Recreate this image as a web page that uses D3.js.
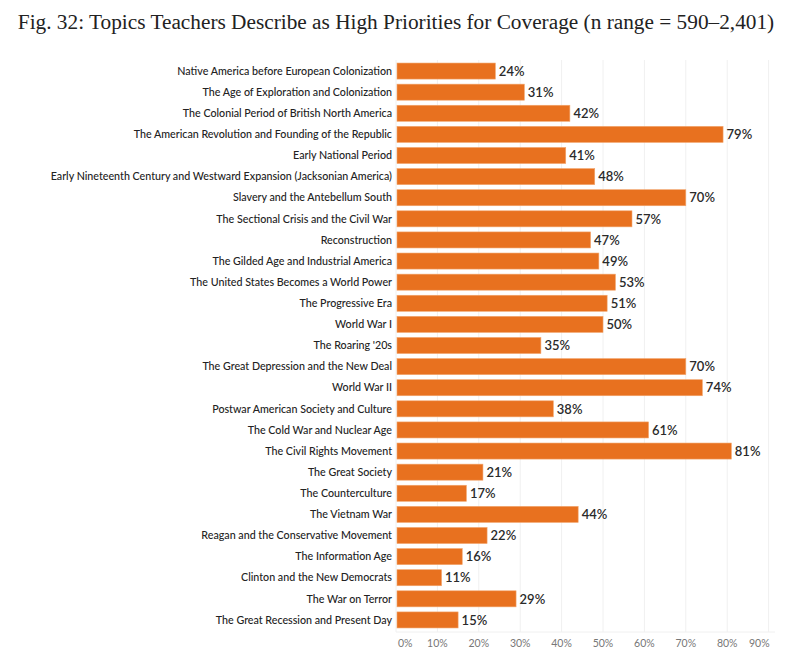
<!DOCTYPE html>
<html>
<head>
<meta charset="utf-8">
<script src="https://cdn.jsdelivr.net/npm/d3@7"></script>
<style>
  body { margin: 0; background: #fff; }
  svg { display: block; }
</style>
</head>
<body>
<svg id="chart" width="800" height="667"></svg>
<script>
const title = "Fig. 32: Topics Teachers Describe as High Priorities for Coverage (n range = 590\u20132,401)";
const categories = [
  "Native America before European Colonization",
  "The Age of Exploration and Colonization",
  "The Colonial Period of British North America",
  "The American Revolution and Founding of the Republic",
  "Early National Period",
  "Early Nineteenth Century and Westward Expansion (Jacksonian America)",
  "Slavery and the Antebellum South",
  "The Sectional Crisis and the Civil War",
  "Reconstruction",
  "The Gilded Age and Industrial America",
  "The United States Becomes a World Power",
  "The Progressive Era",
  "World War I",
  "The Roaring '20s",
  "The Great Depression and the New Deal",
  "World War II",
  "Postwar American Society and Culture",
  "The Cold War and Nuclear Age",
  "The Civil Rights Movement",
  "The Great Society",
  "The Counterculture",
  "The Vietnam War",
  "Reagan and the Conservative Movement",
  "The Information Age",
  "Clinton and the New Democrats",
  "The War on Terror",
  "The Great Recession and Present Day"
];
const values = [24, 31, 42, 79, 41, 48, 70, 57, 47, 49, 53, 51, 50, 35, 70, 74, 38, 61, 81, 21, 17, 44, 22, 16, 11, 29, 15];
const xTicks = [0, 10, 20, 30, 40, 50, 60, 70, 80, 90];

const data = categories.map((c, i) => ({ cat: c, val: values[i] }));
const svg = d3.select("#chart");

const x = d3.scaleLinear().domain([0, 90]).range([396, 768.6]);
const y = d3.scaleBand().domain(categories).range([60.5, 630.5]).paddingInner(0.24).paddingOuter(0.12);

// title
svg.append("text")
  .attr("x", 396).attr("y", 29)
  .attr("text-anchor", "middle")
  .attr("font-family", "Liberation Serif, serif")
  .attr("font-size", 21.3)
  .attr("fill", "#222")
  .text(title);

// gridlines
svg.append("g").selectAll("line")
  .data(xTicks)
  .join("line")
  .attr("x1", d => x(d)).attr("x2", d => x(d))
  .attr("y1", 60).attr("y2", 632)
  .attr("stroke", "#f0f0f0").attr("stroke-width", 1);

// bottom baseline
svg.append("line")
  .attr("x1", 396).attr("x2", 775)
  .attr("y1", 632).attr("y2", 632)
  .attr("stroke", "#f0f0f0");

// bars
svg.append("g").selectAll("rect")
  .data(data)
  .join("rect")
  .attr("x", x(0) + 1)
  .attr("y", d => y(d.cat))
  .attr("width", d => x(d.val) - x(0) - 1)
  .attr("height", y.bandwidth())
  .attr("fill", "#E8711F")
  .attr("stroke", "#f2a56c")
  .attr("stroke-width", 0.6);

// category labels
svg.append("g").selectAll("text")
  .data(data)
  .join("text")
  .attr("x", 392)
  .attr("y", d => y(d.cat) + y.bandwidth() / 2)
  .attr("dy", "0.35em")
  .attr("text-anchor", "end")
  .attr("font-family", "Lato, sans-serif")
  .attr("font-size", 10.7)
  .attr("font-weight", 500)
  .attr("fill", "#222")
  .text(d => d.cat);

// value labels
svg.append("g").selectAll("text")
  .data(data)
  .join("text")
  .attr("x", d => x(d.val) + 3.5)
  .attr("y", d => y(d.cat) + y.bandwidth() / 2)
  .attr("dy", "0.36em")
  .attr("font-family", "Lato, sans-serif")
  .attr("font-size", 13)
  .attr("font-weight", 600)
  .attr("fill", "#2a2a2a")
  .text(d => d.val + "%");

// x tick labels
svg.append("g").selectAll("text")
  .data(xTicks)
  .join("text")
  .attr("x", (d, i) => i === 0 ? x(d) + 2 : (i === xTicks.length - 1 ? x(d) + 1 : x(d)))
  .attr("y", 647)
  .attr("text-anchor", (d, i) => i === 0 ? "start" : (i === xTicks.length - 1 ? "end" : "middle"))
  .attr("font-family", "Lato, sans-serif")
  .attr("font-size", 10.5)
  .attr("fill", "#777")
  .text(d => d + "%");
</script>
</body>
</html>
